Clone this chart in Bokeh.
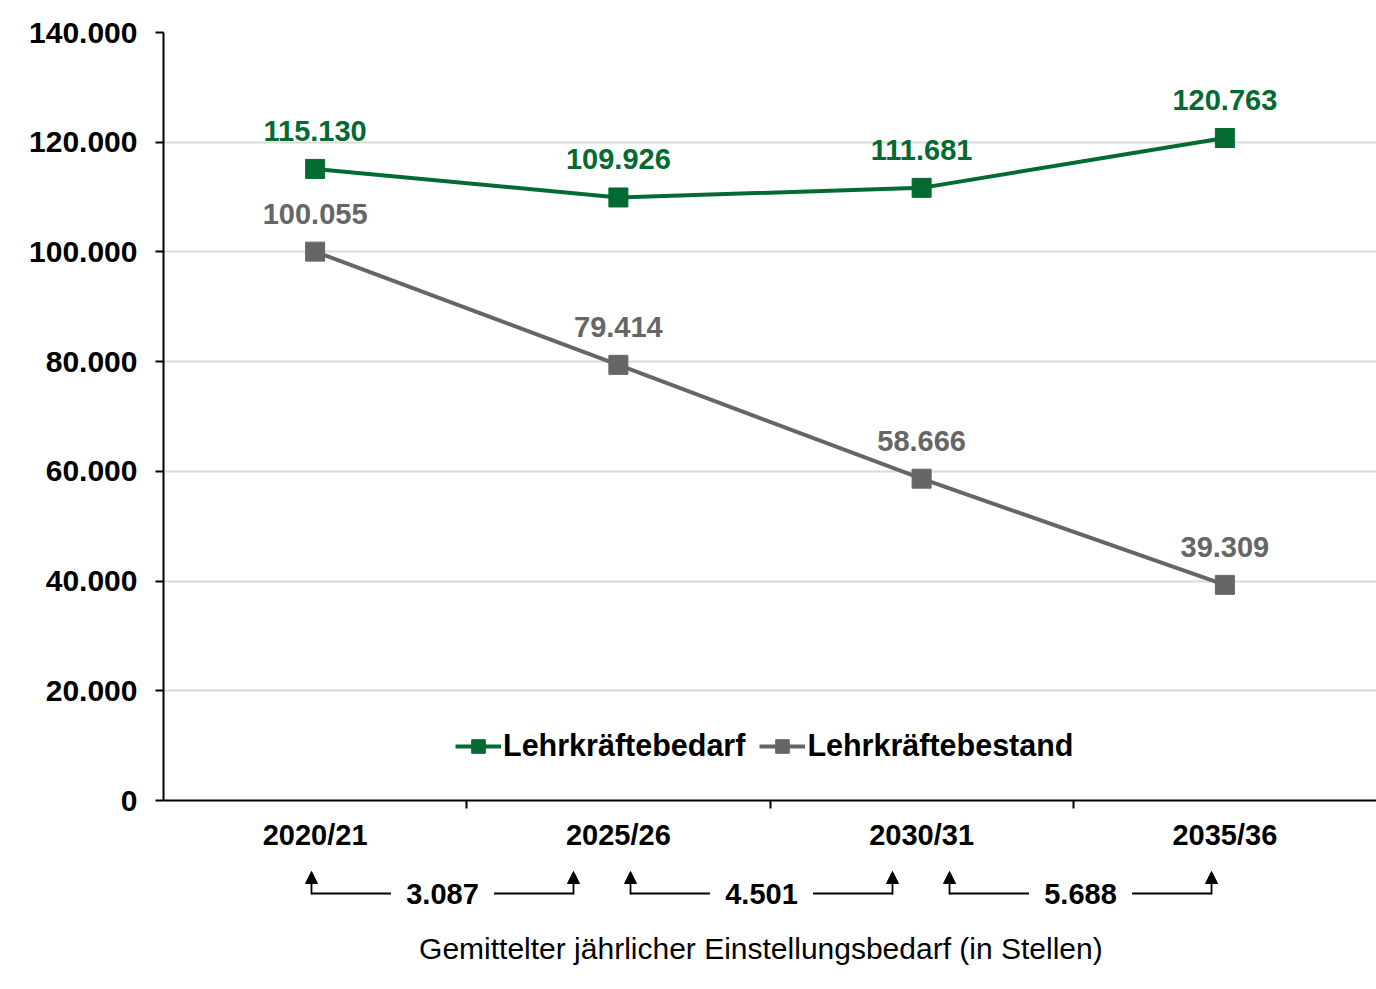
from bokeh.plotting import figure
from bokeh.layouts import column
from bokeh.models import (FixedTicker, Legend, LegendItem, Arrow, NormalHead,
                          ColumnDataSource, Range1d)
from bokeh.core.properties import value
from bokeh.embed import file_html
from bokeh.resources import INLINE

# ---------------- data ----------------
categories = ["2020/21", "2025/26", "2030/31", "2035/36"]
bedarf = [115130, 109926, 111681, 120763]       # Lehrkräftebedarf
bestand = [100055, 79414, 58666, 39309]          # Lehrkräftebestand
einstellung = [3087, 4501, 5688]                 # gemittelter jährlicher Einstellungsbedarf
y_ticks = [0, 20000, 40000, 60000, 80000, 100000, 120000, 140000]
x_title = "Gemittelter jährlicher Einstellungsbedarf (in Stellen)"


def de(n):
    return f"{n:,}".replace(",", ".")


GREEN = "#036b31"
GREY = "#666666"
FONT = "Liberation Sans"
FS = "29px"

W = 1376
H1, H2 = 860, 125
p = figure(width=W, height=H1, x_range=Range1d(0, 4), y_range=Range1d(0, 140000),
           output_backend="svg", toolbar_location=None,
           min_border_left=163, min_border_right=0, min_border_top=32, min_border_bottom=60)
p.outline_line_color = None

# y axis
p.yaxis.ticker = FixedTicker(ticks=y_ticks)
p.yaxis.major_label_overrides = {v: de(v) for v in y_ticks}
p.yaxis.major_label_text_font = FONT
p.yaxis.major_label_text_font_style = "bold"
p.yaxis.major_label_text_font_size = "30px"
p.yaxis.major_label_text_color = "black"
p.yaxis.major_tick_out = 8
p.yaxis.major_tick_in = 0
p.yaxis.minor_tick_line_color = None
p.yaxis.axis_line_width = 2
p.yaxis.major_tick_line_width = 2
p.yaxis.axis_line_color = "black"
p.yaxis.major_label_standoff = 18

# x axis (labels at category centres, ticks at category boundaries)
xc = [i + 0.5 for i in range(len(categories))]
p.xaxis.ticker = FixedTicker(ticks=xc, minor_ticks=[1, 2, 3])
p.xaxis.major_label_overrides = {c: lab for c, lab in zip(xc, categories)}
p.xaxis.major_tick_line_color = None
p.xaxis.major_tick_out = 0
p.xaxis.major_tick_in = 0
p.xaxis.minor_tick_out = 8
p.xaxis.minor_tick_in = 0
p.xaxis.minor_tick_line_width = 2
p.xaxis.minor_tick_line_color = "black"
p.xaxis.axis_line_width = 2
p.xaxis.axis_line_color = "black"
p.xaxis.major_label_text_font = FONT
p.xaxis.major_label_text_font_style = "bold"
p.xaxis.major_label_text_font_size = FS
p.xaxis.major_label_text_color = "black"
p.xaxis.major_label_standoff = 10

p.xgrid.grid_line_color = None
p.ygrid.ticker = FixedTicker(ticks=y_ticks)
p.ygrid.grid_line_color = "#d9d9d9"
p.ygrid.grid_line_width = 2

# series
src_g = ColumnDataSource(dict(x=xc, y=bedarf, t=[de(v) for v in bedarf]))
src_b = ColumnDataSource(dict(x=xc, y=bestand, t=[de(v) for v in bestand]))

lg = p.line("x", "y", source=src_g, line_color=GREEN, line_width=4)
sg = p.scatter("x", "y", source=src_g, marker="square", size=19, fill_color=GREEN, line_color=GREEN)
lb = p.line("x", "y", source=src_b, line_color=GREY, line_width=4)
sb = p.scatter("x", "y", source=src_b, marker="square", size=19, fill_color=GREY, line_color=GREY)

for src, col in ((src_g, GREEN), (src_b, GREY)):
    p.text("x", "y", text="t", source=src, text_color=col, text_font=value(FONT),
           text_font_style="bold", text_font_size=FS, text_align="center",
           text_baseline="middle", y_offset=-38)

legend = Legend(items=[LegendItem(label="Lehrkräftebedarf", renderers=[lg, sg]),
                       LegendItem(label="Lehrkräftebestand", renderers=[lb, sb])],
                orientation="horizontal", location=(292, 37),
                label_text_font=FONT, label_text_font_style="bold", label_text_font_size="30.5px",
                label_text_color="black", glyph_width=46, glyph_height=34, label_standoff=2,
                spacing=14, padding=0, margin=0, border_line_color=None,
                background_fill_alpha=0)
p.add_layout(legend)

# ------------- lower panel: mean yearly hiring need between projection years -------------
q = figure(width=W, height=H2, x_range=p.x_range, y_range=Range1d(H2, 0),
           output_backend="svg", toolbar_location=None,
           min_border_left=163, min_border_right=0, min_border_top=0, min_border_bottom=0)
q.axis.visible = False
q.grid.grid_line_color = None
q.outline_line_color = None

y_line, y_tip, y_title = 33, 11, 88
centres = [i + 0.92 + 0.052 * i for i in range(len(einstellung))]
half_span, gap = 0.432, 0.17
hx0, hx1, vx = [], [], []
for c in centres:
    for side in (-1, 1):
        hx0.append(c + side * gap)
        hx1.append(c + side * half_span)
        vx.append(c + side * half_span)
q.segment(x0=hx0, y0=[y_line] * len(hx0), x1=hx1, y1=[y_line] * len(hx1),
          line_color="black", line_width=1.8)
for x in vx:
    q.add_layout(Arrow(x_start=x, y_start=y_line + 1, x_end=x, y_end=y_tip,
                       end=NormalHead(size=12, fill_color="black", line_color="black", line_width=1),
                       line_color="black", line_width=1.8))
q.text(x=centres, y=[y_line] * len(centres), text=[de(v) for v in einstellung],
       text_align="center", text_baseline="middle", text_font=value(FONT),
       text_font_style="bold", text_font_size=FS, text_color="black")
q.text(x=[1.97], y=[y_title], text=[x_title], text_align="center", text_baseline="middle",
       text_font=value(FONT), text_font_size="30px", text_color="black")

layout = column(p, q, spacing=0)
open("out.html", "w").write(file_html(layout, INLINE))
